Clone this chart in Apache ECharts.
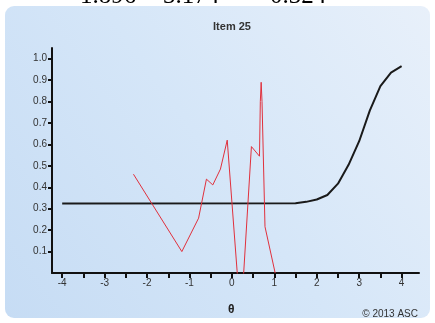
<!DOCTYPE html>
<html>
<head>
<meta charset="utf-8">
<script src="https://cdn.jsdelivr.net/npm/echarts@6/dist/echarts.min.js"></script>
<style>
  html, body { margin: 0; padding: 0; background: #fff; }
  #chart { width: 435px; height: 323px; }
</style>
</head>
<body>
<div id="chart"></div>
<script>
// item parameters shown (cut off) above the panel
const paramLabels = ["1.896", "3.174", "0.324"];

// model curve (ICC)
const iccTheta = [-4, 1.5, 1.75, 2.0, 2.25, 2.5, 2.75, 3.0, 3.25, 3.5, 3.75, 4.0];
const iccProb = [0.324, 0.325, 0.332, 0.343, 0.364, 0.417, 0.505, 0.615, 0.758, 0.872, 0.935, 0.965];

// observed proportions (red line)
const obsTheta = [-2.32, -1.18, -0.785, -0.60, -0.45, -0.27, -0.11, 0.21, 0.46, 0.65, 0.67, 0.69, 0.71, 0.78, 1.02];
const obsProb = [0.461, 0.10, 0.256, 0.438, 0.411, 0.485, 0.62, -0.22, 0.59, 0.545, 0.80, 0.89, 0.80, 0.216, 0.0];

// axis ticks and labels
const xTicks = [-4, -3.5, -3, -2.5, -2, -1.5, -1, -0.5, 0, 0.5, 1, 1.5, 2, 2.5, 3, 3.5, 4];
const xLabels = [-4, -3, -2, -1, 0, 1, 2, 3, 4];
const yLabels = [0.1, 0.2, 0.3, 0.4, 0.5, 0.6, 0.7, 0.8, 0.9, 1.0];

const zip = (xs, ys) => xs.map((x, i) => [x, ys[i]]);

const myChart = echarts.init(document.getElementById("chart"));

const axisStyle = {
  axisLine: { show: true, onZero: false, lineStyle: { color: "#111", width: 2 } },
  axisTick: { show: true, length: 5, lineStyle: { color: "#111", width: 2 } },
  splitLine: { show: false },
  axisLabel: { fontSize: 10, fontFamily: "Liberation Sans, Arial", color: "#333" }
};

const option = {
  animation: false,
  title: {
    text: "Item 25",
    left: 227,
    top: 16,
    textAlign: "center",
    textStyle: { fontSize: 11, fontWeight: "bold", fontFamily: "Liberation Sans, Arial", color: "#333" }
  },
  grid: { left: 52, right: 16, top: 48, bottom: 50 },
  xAxis: {
    type: "value",
    min: -4.24,
    max: 4.41,
    ...axisStyle,
    axisTick: { ...axisStyle.axisTick, customValues: xTicks },
    axisLabel: { ...axisStyle.axisLabel, margin: 5, customValues: xLabels }
  },
  yAxis: {
    type: "value",
    min: 0,
    max: 1.05,
    ...axisStyle,
    axisTick: { ...axisStyle.axisTick, length: 4, customValues: yLabels },
    axisLabel: {
      ...axisStyle.axisLabel,
      margin: 5,
      customValues: yLabels,
      formatter: v => v.toFixed(1)
    }
  },
  graphic: [
    {
      type: "rect",
      z: -10,
      shape: { x: 5, y: 6, width: 425, height: 312, r: 9 },
      style: {
        fill: {
          type: "linear", x: 0, y: 1, x2: 1, y2: 0,
          colorStops: [
            { offset: 0, color: "#c6dcf4" },
            { offset: 0.5, color: "#d5e6f8" },
            { offset: 1, color: "#e8f0fa" }
          ]
        }
      }
    },
    {
      type: "text", left: 80, top: -16,
      style: { text: paramLabels[0], font: "25px 'Liberation Serif', serif", fill: "#000" }
    },
    {
      type: "text", left: 163, top: -16,
      style: { text: paramLabels[1], font: "25px 'Liberation Serif', serif", fill: "#000" }
    },
    {
      type: "text", left: 270, top: -16,
      style: { text: paramLabels[2], font: "25px 'Liberation Serif', serif", fill: "#000" }
    },
    {
      type: "text", left: 228, top: 304,
      style: { text: "θ", font: "bold 12px 'Liberation Sans', Arial", fill: "#222" }
    },
    {
      type: "text", right: 17, top: 309,
      style: { text: "© 2013 ASC", font: "10px 'Liberation Sans', Arial", fill: "#333" }
    }
  ],
  series: [
    {
      name: "model",
      type: "line",
      data: zip(iccTheta, iccProb),
      showSymbol: false,
      lineStyle: { color: "#1a1a1a", width: 2 }
    },
    {
      name: "observed",
      type: "line",
      data: zip(obsTheta, obsProb),
      showSymbol: false,
      clip: true,
      lineStyle: { color: "#e0303c", width: 1 }
    }
  ]
};

myChart.setOption(option);
</script>
</body>
</html>
